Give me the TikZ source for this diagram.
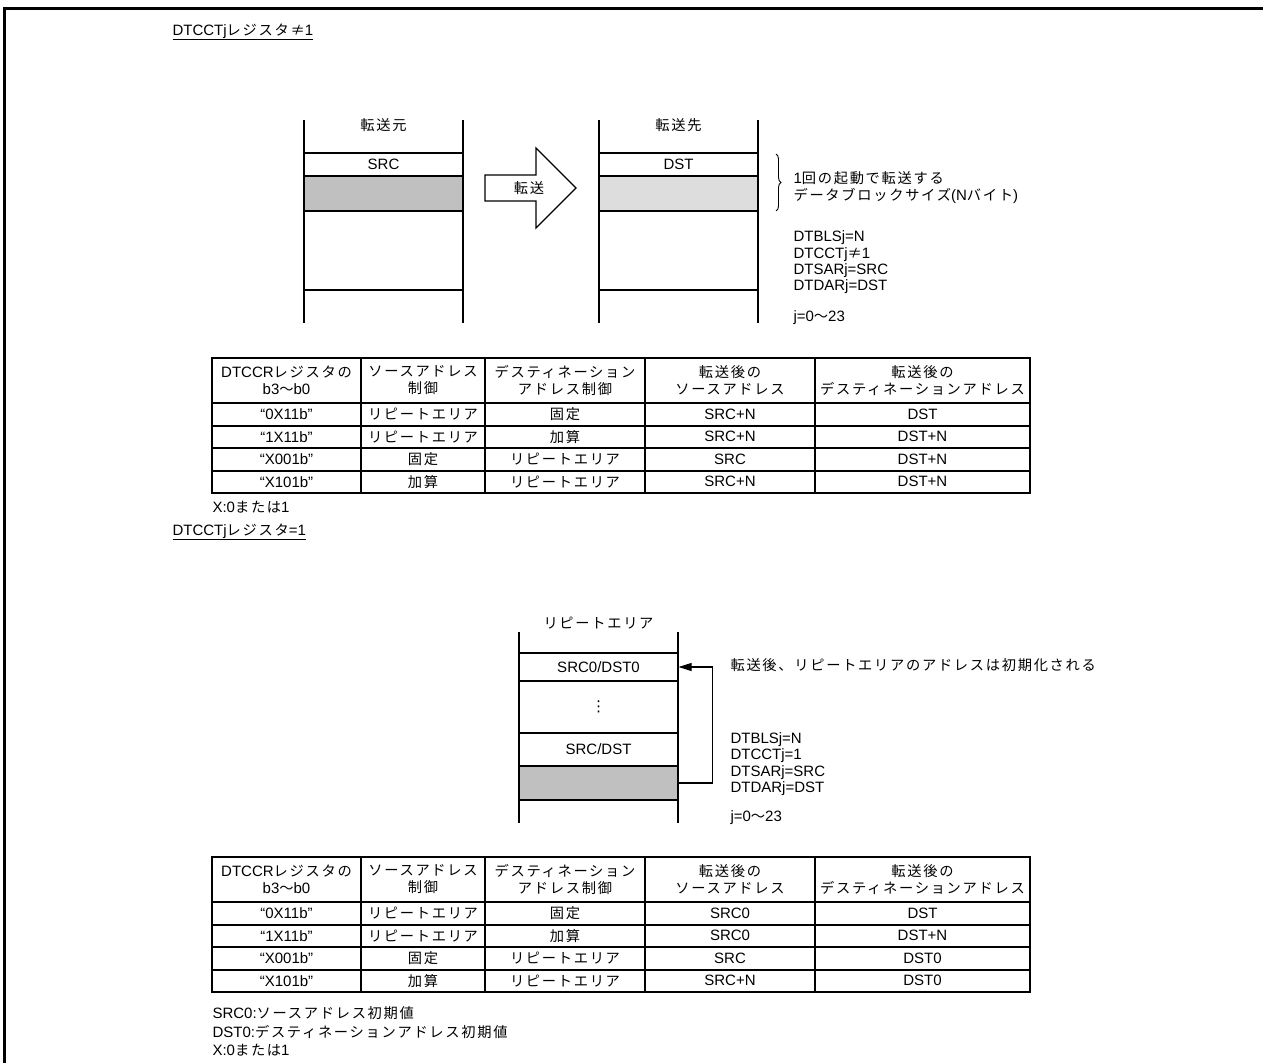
\documentclass[tikz,border=0pt]{standalone}
\usepackage{fontspec}
\setmainfont{Liberation Sans}
\newfontfamily\jpf[LetterSpace=12,Scale=0.95]{Noto Sans CJK JP}
\newfontfamily\dvf{DejaVu Sans}
\newcommand{\J}[1]{{\jpf #1}}
\usetikzlibrary{arrows.meta,decorations.pathreplacing}
\definecolor{gdark}{RGB}{192,192,192}
\definecolor{glight}{RGB}{221,221,221}
\newcommand{\tblgrid}{%
  \draw (212,0) rectangle (1030,135);
  \foreach \yy in {45,68,90,113} \draw (212,\yy) -- (1030,\yy);
  \foreach \xx in {361,485,645,815} \draw (\xx,0) -- (\xx,135);
  \node[hdr] (h1) at (286.5,22.5) {DTCCR\J{レジスタの}\\b3\J{〜}b0};
  \node[hdr] (h2) at (423,22.5) {\J{ソースアドレス}\\\J{制御}};
  \node[hdr] (h3) at (565,22.5) {\J{デスティネーション}\\\J{アドレス制御}};
  \node[hdr] (h4) at (730,22.5) {\J{転送後の}\\\J{ソースアドレス}};
  \node[hdr] (h5) at (922.5,22.5) {\J{転送後の}\\\J{デスティネーションアドレス}};
}
\begin{document}
\begin{tikzpicture}[x=1pt,y=-1pt,line width=1.1pt,
  every node/.style={inner sep=0pt,font=\fontsize{15}{16.3}\selectfont},
  hdr/.style={align=center,font=\fontsize{15}{17}\selectfont},
  rowbox/.style={draw,minimum width=159pt,anchor=center},
  info/.style={align=left,anchor=west}]
\useasboundingbox (0,0) rectangle (1263,1063);
% frame
\draw[line width=3pt] (4.5,1063) -- (4.5,8.5) -- (1263,8.5);

% ---------- section 1 ----------
\node[anchor=base west] (title1) at (172,35) {\underline{DTCCTj\J{レジスタ≠}1}};

% source column
\draw (304,120) -- (304,323);
\draw (463,120) -- (463,323);
\node (srchd) at (383.5,125) {\J{転送元}};
\node[rowbox,minimum height=23pt] (srcrow) at (383.5,164.5) {SRC};
\node[rowbox,minimum height=35pt,fill=gdark] (srcblk) at (383.5,193.5) {};
\node[rowbox,minimum height=79pt] (srcrest) at (383.5,250.5) {};

% transfer arrow
\draw (485,175) -- (536,175) -- (536,148) -- (576,188) -- (536,228) -- (536,201) -- (485,201) -- cycle;
\node (xfer) at (529,188) {\J{転送}};

% destination column
\draw (599,120) -- (599,323);
\draw (758,120) -- (758,323);
\node (dsthd) at (678.5,125) {\J{転送先}};
\node[rowbox,minimum height=23pt] (dstrow) at (678.5,164.5) {DST};
\node[rowbox,minimum height=35pt,fill=glight] (dstblk) at (678.5,193.5) {};
\node[rowbox,minimum height=79pt] (dstrest) at (678.5,250.5) {};

% brace and notes
\coordinate (bt) at (776,154);
\coordinate (bb) at (776,211);
\draw[line width=0.9pt,decorate,decoration={brace,amplitude=5pt}] (bt) -- (bb);
\node[info] (blk) at (793,187.5) {1\J{回の起動で転送する}\\\J{データブロックサイズ}(N\J{バイト})};
\node[info] (regs1) at (793,262.5) {DTBLSj=N\\DTCCTj\J{≠}1\\DTSARj=SRC\\DTDARj=DST};
\node[info] (jr1) at (793,318) {j=0\J{〜}23};

% table 1
\begin{scope}[shift={(0,358)}]
\tblgrid
\foreach \a/\b/\c/\d/\e [count=\i] in {0X11b/リピートエリア/固定/SRC+N/DST,1X11b/リピートエリア/加算/SRC+N/DST+N,X001b/固定/リピートエリア/SRC/DST+N,X101b/加算/リピートエリア/SRC+N/DST+N}{
  \pgfmathsetmacro{\yc}{45+22.5*(\i-1)+11.25}
  \node (ta\i a) at (286.5,\yc) {“\a”};
  \node (ta\i b) at (423,\yc) {\J{\b}};
  \node (ta\i c) at (565,\yc) {\J{\c}};
  \node (ta\i d) at (730,\yc) {\d};
  \node (ta\i e) at (922.5,\yc) {\e};
}
\end{scope}
\node[anchor=west] (note1) at (212,507) {X:0\J{または}1};

% ---------- section 2 ----------
\node[anchor=base west] (title2) at (172,535) {\underline{DTCCTj\J{レジスタ}=1}};

\draw (519,632) -- (519,823);
\draw (678,632) -- (678,823);
\node (rephd) at (598.5,623) {\J{リピートエリア}};
\node[rowbox,minimum height=28pt] (r0) at (598.5,667) {SRC0/DST0};
\node[rowbox,minimum height=52pt] (rdots) at (598.5,707) {{\dvf ⋮}};
\node[rowbox,minimum height=33pt] (rsd) at (598.5,749.5) {SRC/DST};
\node[rowbox,minimum height=34pt,fill=gdark] (rg) at (598.5,783) {};
\draw[-{Triangle[length=13pt,width=8pt]}] (rg.east) -- ++(34,0) |- (r0.east);
\node[anchor=west] (repnote) at (730,665) {\J{転送後、リピートエリアのアドレスは初期化される}};
\node[info] (regs2) at (730,764) {DTBLSj=N\\DTCCTj=1\\DTSARj=SRC\\DTDARj=DST};
\node[info] (jr2) at (730,818) {j=0\J{〜}23};

% table 2
\begin{scope}[shift={(0,857)}]
\tblgrid
\foreach \a/\b/\c/\d/\e [count=\i] in {0X11b/リピートエリア/固定/SRC0/DST,1X11b/リピートエリア/加算/SRC0/DST+N,X001b/固定/リピートエリア/SRC/DST0,X101b/加算/リピートエリア/SRC+N/DST0}{
  \pgfmathsetmacro{\yc}{45+22.5*(\i-1)+11.25}
  \node (tb\i a) at (286.5,\yc) {“\a”};
  \node (tb\i b) at (423,\yc) {\J{\b}};
  \node (tb\i c) at (565,\yc) {\J{\c}};
  \node (tb\i d) at (730,\yc) {\d};
  \node (tb\i e) at (922.5,\yc) {\e};
}
\end{scope}
\node[info,font=\fontsize{15}{18.5}\selectfont] (note2) at (212,1031.5) {SRC0:\J{ソースアドレス初期値}\\DST0:\J{デスティネーションアドレス初期値}\\X:0\J{または}1};
\end{tikzpicture}
\end{document}
